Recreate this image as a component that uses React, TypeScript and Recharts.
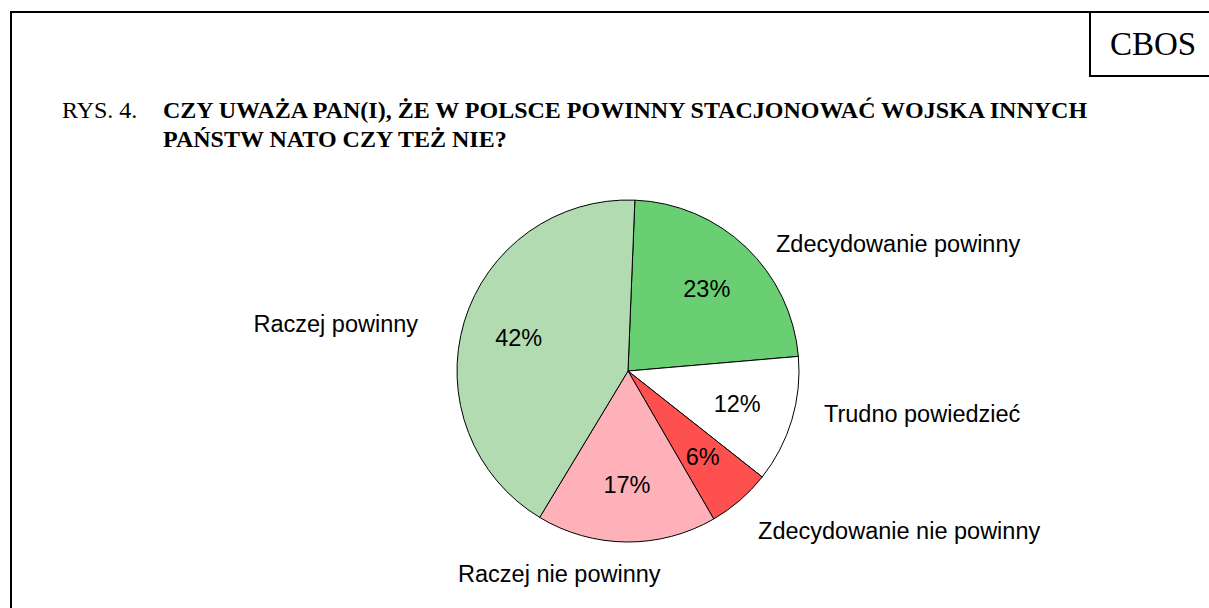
import React from 'react';
import { PieChart, Pie, Cell } from 'recharts';

// answers, clockwise from the top
const categories = [
  'Zdecydowanie powinny',
  'Trudno powiedzieć',
  'Zdecydowanie nie powinny',
  'Raczej nie powinny',
  'Raczej powinny',
];
const shares = [23, 12, 6, 17, 42];
const colors = ['#6ACF72', '#FFFFFF', '#FF5050', '#FFB1B9', '#B2DBB2'];

const titleLines = [
  'CZY UWAŻA PAN(I), ŻE W POLSCE POWINNY STACJONOWAĆ WOJSKA INNYCH',
  'PAŃSTW NATO CZY TEŻ NIE?',
];

// small nudges for the category names, from a point just outside the rim
const nameNudges = [
  { dx: 16, dy: 19, anchor: 'start' },
  { dx: 13, dy: -4, anchor: 'start' },
  { dx: 5, dy: 24, anchor: 'start' },
  { dx: -67, dy: 20, anchor: 'middle' },
  { dx: -27, dy: 16, anchor: 'end' },
];

const RAD = Math.PI / 180;
const SANS = '"Liberation Sans", Arial, sans-serif';
const SERIF = '"Liberation Serif", "Times New Roman", serif';

const renderLabel = (props: any) => {
  const { cx, cy, midAngle, outerRadius, index, value, name } = props;
  const cos = Math.cos(-midAngle * RAD);
  const sin = Math.sin(-midAngle * RAD);
  const inR = outerRadius * 0.667;
  const outR = outerRadius + 20;
  const n = nameNudges[index];
  return (
    <g>
      <text
        x={cx + inR * cos}
        y={cy + inR * sin + 8}
        textAnchor="middle"
        fontFamily={SANS}
        fontSize={23.5}
        fill="#000"
      >
        {value}%
      </text>
      <text
        x={cx + outR * cos + n.dx}
        y={cy + outR * sin + n.dy}
        textAnchor={n.anchor}
        fontFamily={SANS}
        fontSize={23.5}
        fill="#000"
      >
        {name}
      </text>
    </g>
  );
};

export default function App() {
  const data = categories.map((name, i) => ({ name, value: shares[i] }));

  return (
    <div style={{ position: 'absolute', left: 0, top: 0, width: 1209, height: 608, overflow: 'hidden', background: '#fff' }}>
      <svg width={1209} height={608} style={{ position: 'absolute', left: 0, top: 0 }}>
        <rect x={11} y={12} width={1400} height={900} fill="none" stroke="#000" strokeWidth={2} />
        <rect x={1090} y={12} width={300} height={64} fill="#fff" stroke="#000" strokeWidth={2} />
        <text x={1110} y={55} fontFamily={SERIF} fontSize={33} fill="#000">CBOS</text>
        <text x={62} y={118} fontFamily={SERIF} fontSize={24} fill="#000">RYS. 4.</text>
        {titleLines.map((t, i) => (
          <text key={i} x={163} y={118 + i * 29} fontFamily={SERIF} fontSize={24} fontWeight="bold" fill="#000">
            {t}
          </text>
        ))}
      </svg>
      <div style={{ position: 'absolute', left: 0, top: 0 }}>
        <PieChart width={1209} height={608} margin={{ top: 0, right: 0, bottom: 0, left: 0 }}>
          <Pie
            data={data}
            dataKey="value"
            nameKey="name"
            cx={628}
            cy={371}
            outerRadius={171}
            startAngle={87.7}
            endAngle={-272.3}
            stroke="#000"
            strokeWidth={1}
            label={renderLabel}
            labelLine={false}
            isAnimationActive={false}
          >
            {data.map((d, i) => (
              <Cell key={d.name} fill={colors[i]} />
            ))}
          </Pie>
        </PieChart>
      </div>
    </div>
  );
}
